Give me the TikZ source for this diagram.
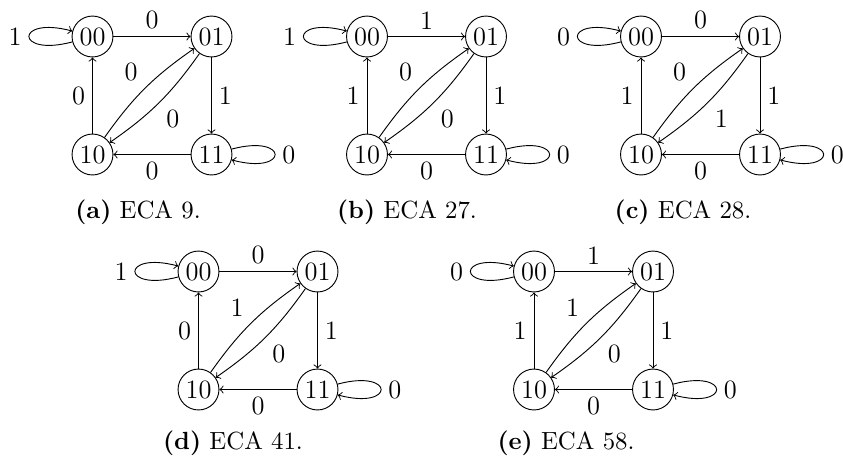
\documentclass[tikz,border=0pt]{standalone}
\begin{document}
\begin{tikzpicture}[x=0.435pt,y=0.435pt,
  font=\fontsize{11.5}{13}\selectfont,
  st/.style={circle,draw,minimum size=17.8pt,inner sep=0.5pt},
  lbl/.style={inner sep=3pt},
  captext/.style={anchor=base,inner sep=0pt,font=\fontsize{10.8}{13}\selectfont}]
\useasboundingbox (0,0) rectangle (843,-456);
\foreach \p/\x/\y/\la/\lt/\lr/\lb/\ll/\lu/\ld/\lc/\cx/\cy/\ct in {
  a/92.5/36.5/1/0/1/0/0/0/0/0/138/218/{ECA 9.},
  b/367/36.5/1/1/1/0/1/0/0/0/407/218/{ECA 27.},
  c/641/36.5/0/0/1/0/1/0/1/0/683/218/{ECA 28.},
  d/198.5/271.5/1/0/1/0/0/1/0/0/233/449/{ECA 41.},
  e/534/271.5/0/1/1/0/1/1/0/0/566/449/{ECA 58.}}
{
  \node[st] (\p00) at (\x,-\y) {00};
  \node[st] (\p01) at (\x+119,-\y) {01};
  \node[st] (\p10) at (\x,-\y-118) {10};
  \node[st] (\p11) at (\x+119,-\y-118) {11};
  \draw[->] (\p00) to[out=195,in=165,min distance=26pt] node[lbl,left]{\la} (\p00);
  \draw[->] (\p11) to[out=15,in=-15,min distance=26pt] node[lbl,right]{\lc} (\p11);
  \draw[->] (\p00) -- node[lbl,above]{\lt} (\p01);
  \draw[->] (\p01) -- node[lbl,right]{\lr} (\p11);
  \draw[->] (\p11) -- node[lbl,below]{\lb} (\p10);
  \draw[->] (\p10) -- node[lbl,left]{\ll} (\p00);
  \draw[->] (\p10) to[bend left=10] node[lbl,above left]{\lu} (\p01);
  \draw[->] (\p01) to[bend left=10] node[lbl,below right]{\ld} (\p10);
  \node[captext] (cap\p) at (\cx,-\cy) {\textbf{(\p)} \ct};
}
\end{tikzpicture}
\end{document}
